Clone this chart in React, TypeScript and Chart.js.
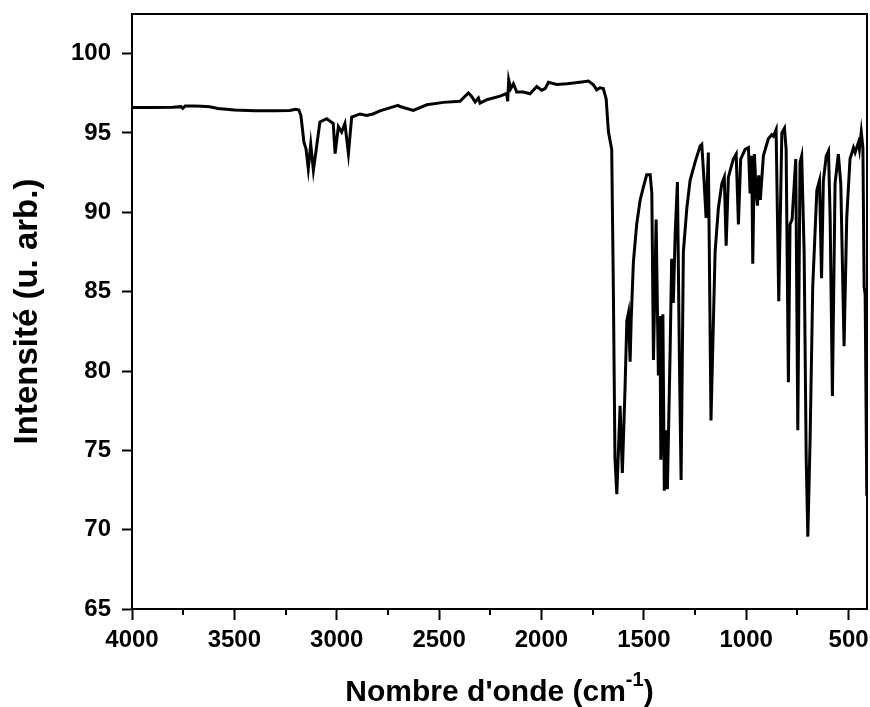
import React, { useEffect, useRef } from "react";
import { Chart, registerables } from "chart.js";

Chart.register(...registerables);

// Wavenumbers (cm-1) and intensities
const wavenumbers = [
  4000, 3900, 3800, 3760, 3752, 3740, 3700, 3660, 3620, 3580, 3500, 3400, 3300, 3230, 3200, 3185,
  3175, 3160, 3150, 3139, 3127, 3114, 3082, 3049, 3017, 3008, 2992, 2976, 2960, 2943, 2927,
  2886, 2853, 2823, 2789, 2701, 2691, 2626, 2560, 2479, 2398, 2357, 2341, 2324, 2308, 2300,
  2267, 2202, 2170, 2165, 2160, 2150, 2137, 2121, 2088, 2056, 2023, 1999, 1982, 1966, 1925,
  1876, 1812, 1771, 1747, 1730, 1714, 1698, 1684, 1673, 1657, 1649, 1641, 1632, 1616, 1605,
  1592, 1583, 1575, 1567, 1562, 1551, 1535, 1518, 1502, 1486, 1469, 1461, 1453, 1440, 1429,
  1421, 1417, 1407, 1400, 1391, 1385, 1372, 1364, 1356, 1347, 1336, 1326, 1318, 1307, 1290,
  1274, 1250, 1225, 1217, 1206, 1196, 1185, 1172, 1152, 1136, 1119, 1107, 1098, 1087, 1063,
  1049, 1038, 1027, 1005, 989, 981, 973, 968, 960, 952, 945, 939, 931, 916, 892, 875, 867,
  854, 841, 826, 813, 805, 794, 786, 776, 758, 748, 737, 729, 717, 707, 699, 688, 675, 655,
  642, 632, 623, 609, 598, 590, 579, 566, 550, 538, 522, 509, 493, 476, 468, 460, 452, 447,
  438, 430, 424, 419, 411,
];
const intensities = [
  96.6, 96.6, 96.62, 96.66, 96.55, 96.7, 96.7, 96.68, 96.65, 96.55, 96.45, 96.4, 96.4, 96.42, 96.5, 96.45,
  96.1, 94.4, 94.0, 92.75, 94.3, 92.65, 95.7, 95.9, 95.6, 93.7, 95.4, 95.06, 95.6, 93.7, 96.0,
  96.2, 96.1, 96.2, 96.4, 96.74, 96.67, 96.42, 96.78, 96.93, 97.0, 97.53, 97.3, 96.95, 97.2, 96.88,
  97.1, 97.32, 97.5, 97.0, 98.35, 97.8, 98.1, 97.58, 97.58, 97.47, 97.93, 97.7, 97.8, 98.2, 98.06,
  98.1, 98.2, 98.27, 98.05, 97.72, 97.85, 97.8, 97.15, 95.07, 93.97, 85.32, 74.51, 72.24, 77.8, 73.58,
  78.83, 83.16, 83.67, 80.58, 83.16, 86.87, 89.24, 90.78, 91.6, 92.37, 92.37, 91.19, 80.69, 89.55, 79.72,
  83.47, 74.4, 83.57, 72.45, 76.26, 72.55, 81.0, 87.07, 84.29, 88.62, 91.91, 80.38, 73.13, 87.49, 90.27,
  92.02, 93.15, 94.18, 94.28, 92.02, 89.65, 93.77, 76.88, 87.49, 90.27, 91.81, 92.22, 87.9, 92.22, 93.36,
  93.67, 89.24, 93.36, 93.97, 94.08, 91.19, 93.56, 86.76, 93.67, 91.4, 90.42, 92.33, 90.78, 93.56, 94.64, 94.9, 94.8,
  95.21, 84.4, 95.0, 95.31, 93.97, 79.29, 89.24, 89.55, 93.36, 76.26, 93.15, 93.56, 87.49, 74.51, 69.56, 75.64, 85.32, 91.4,
  92.02, 85.84, 92.02, 93.56, 93.87, 89.65, 78.42, 91.81, 93.67, 91.81, 81.56, 89.65, 93.36, 94.08, 93.77, 94.08, 94.39, 93.97,
  95.07, 94.08, 85.32, 84.81, 72.14,
];

const xMajorTicks = [500, 1000, 1500, 2000, 2500, 3000, 3500, 4000];
const xMinorTicks = [750, 1250, 1750, 2250, 2750, 3250, 3750];
const yTicks = [65, 70, 75, 80, 85, 90, 95, 100];
const xTitleMain = "Nombre d'onde (cm";
const xTitleSup = "-1";
const xTitleEnd = ")";
const yTitle = "Intensité (u. arb.)";

const FAMILY = '"Liberation Sans", Arial, Helvetica, sans-serif';

const framePlugin = {
  id: "frameAndTitles",
  afterDraw(chart: any) {
    const { ctx, chartArea: a, scales } = chart;
    ctx.save();
    ctx.strokeStyle = "#000";
    ctx.lineWidth = 2;
    ctx.beginPath();
    ctx.moveTo(a.left, a.top);
    ctx.lineTo(a.right, a.top);
    ctx.lineTo(a.right, a.bottom);
    ctx.stroke();

    // minor ticks on x axis
    const xs = scales.x;
    ctx.beginPath();
    for (const v of xMinorTicks) {
      const p = Math.round(xs.getPixelForValue(v));
      ctx.moveTo(p, a.bottom);
      ctx.lineTo(p, a.bottom + 6);
    }
    ctx.stroke();

    // x title with superscript
    ctx.fillStyle = "#000";
    ctx.textBaseline = "alphabetic";
    ctx.textAlign = "left";
    const mainFont = `bold 30px ${FAMILY}`;
    const supFont = `bold 20px ${FAMILY}`;
    ctx.font = mainFont;
    const w1 = ctx.measureText(xTitleMain).width;
    const w3 = ctx.measureText(xTitleEnd).width;
    ctx.font = supFont;
    const w2 = ctx.measureText(xTitleSup).width;
    const total = w1 + w2 + w3;
    const cx = (a.left + a.right) / 2;
    const x0 = cx - total / 2;
    const base = 701;
    ctx.font = mainFont;
    ctx.fillText(xTitleMain, x0, base);
    ctx.font = supFont;
    ctx.fillText(xTitleSup, x0 + w1, base - 15);
    ctx.font = mainFont;
    ctx.fillText(xTitleEnd, x0 + w1 + w2, base);

    // y title
    ctx.save();
    ctx.translate(37, (a.top + a.bottom) / 2);
    ctx.rotate(-Math.PI / 2);
    ctx.textAlign = "center";
    ctx.font = `bold 33px ${FAMILY}`;
    ctx.fillText(yTitle, 0, 0);
    ctx.restore();

    ctx.restore();
  },
};

export default function App() {
  const ref = useRef<HTMLCanvasElement | null>(null);
  useEffect(() => {
    if (!ref.current) return;
    const points = wavenumbers.map((w, i) => ({ x: w, y: intensities[i] }));
    const tickFont = { family: FAMILY, size: 24, weight: "bold" as const };
    const chart = new Chart(ref.current, {
      type: "line",
      data: {
        datasets: [
          {
            data: points,
            borderColor: "#000",
            borderWidth: 3,
            pointRadius: 0,
            tension: 0,
            fill: false,
          },
        ],
      },
      options: {
        animation: false,
        responsive: false,
        devicePixelRatio: 1,
        layout: { padding: { left: 0, right: 3, top: 14, bottom: 0 } },
        plugins: { legend: { display: false }, tooltip: { enabled: false } },
        scales: {
          x: {
            type: "linear",
            reverse: true,
            min: 410,
            max: 4000,
            afterBuildTicks: (s: any) => {
              s.ticks = xMajorTicks.map((v) => ({ value: v }));
            },
            afterFit: (s: any) => {
              s.height = 98;
              s.paddingLeft = 0;
              s.paddingRight = 0;
            },
            grid: { drawOnChartArea: false, drawTicks: true, tickLength: 11, tickWidth: 2, tickColor: "#000" },
            border: { display: true, color: "#000", width: 2 },
            ticks: {
              color: "#000",
              font: tickFont,
              padding: 6,
              maxRotation: 0,
              autoSkip: false,
              callback: (v: any) => String(v),
            },
          },
          y: {
            type: "linear",
            min: 65,
            max: 102.5,
            afterBuildTicks: (s: any) => {
              s.ticks = yTicks.map((v) => ({ value: v }));
            },
            afterFit: (s: any) => {
              s.width = 132;
              s.paddingTop = 0;
              s.paddingBottom = 0;
            },
            grid: { drawOnChartArea: false, drawTicks: true, tickLength: 10, tickWidth: 2, tickColor: "#000" },
            border: { display: true, color: "#000", width: 2 },
            ticks: {
              color: "#000",
              font: tickFont,
              padding: 11,
              autoSkip: false,
              callback: (v: any) => String(v),
            },
          },
        },
      },
      plugins: [framePlugin],
    });
    return () => chart.destroy();
  }, []);
  return (
    <div style={{ position: "absolute", left: 0, top: 0, width: 870, height: 707, background: "#fff" }}>
      <canvas ref={ref} width={870} height={707} />
    </div>
  );
}
